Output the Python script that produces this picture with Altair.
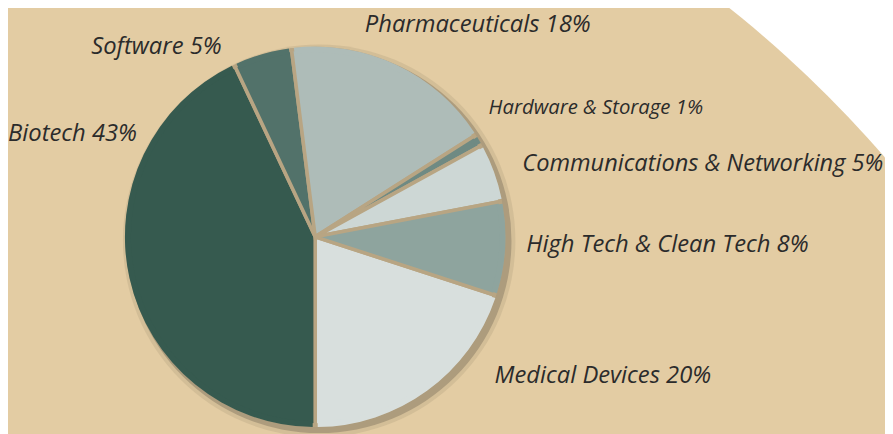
import math
import altair as alt
import pandas as pd

# --- data ---
categories = ["Medical Devices", "Biotech", "Software", "Pharmaceuticals",
              "Hardware & Storage", "Communications & Networking", "High Tech & Clean Tech"]
shares = [20, 43, 5, 18, 1, 5, 8]
slice_colors = ["#d8dfdd", "#365a4f", "#52726a", "#aebcb8", "#6f8a83", "#cdd7d5", "#8ea49e"]

# --- label layout (chart pixel coords) ---
label_x = [491, 0, 84, 360, 485, 519, 523]
label_y = [369, 125, 37, 15, 99, 156, 237]
label_size = [24, 24, 24, 24, 20.5, 23.8, 24]

df = pd.DataFrame({"category": categories, "value": shares, "ord": list(range(len(categories)))})
lab = pd.DataFrame({
    "label": [f"{c} {v}%" for c, v in zip(categories, shares)],
    "lx": label_x, "ly": label_y, "fs": label_size,
})
one = pd.DataFrame({"k": [0]})

W, H = 885, 426
CX, CY, R = 310, 229, 192
start = math.radians(108)
TWO_PI = 2 * math.pi
GAP = "#b8a583"

bg_circle = alt.Chart(one).mark_arc(theta=0, theta2=TWO_PI, radius=1184, color="#e3cca3").encode(
    x=alt.value(-10), y=alt.value(924))

shadow1 = alt.Chart(one).mark_arc(theta=0, theta2=TWO_PI, radius=R + 6, color="#c8b48f", opacity=0.6).encode(
    x=alt.value(CX + 4), y=alt.value(CY + 4))
shadow2 = alt.Chart(one).mark_arc(theta=0, theta2=TWO_PI, radius=R + 2, color="#a8987a", opacity=0.9).encode(
    x=alt.value(CX + 4), y=alt.value(CY + 4))

theta_enc = alt.Theta("value:Q", stack=True, scale=alt.Scale(range=[start, start + TWO_PI]))
color_enc = alt.Color("category:N", scale=alt.Scale(domain=categories, range=slice_colors), legend=None)

pie = alt.Chart(df).mark_arc(radius=R - 2, stroke=GAP, strokeWidth=3.6).encode(
    theta=theta_enc, order=alt.Order("ord:Q"), color=color_enc,
    x=alt.value(CX), y=alt.value(CY),
)
rim = alt.Chart(df).mark_arc(radius=R, radius2=R - 6, padAngle=0.019).encode(
    theta=theta_enc, order=alt.Order("ord:Q"), color=color_enc,
    x=alt.value(CX), y=alt.value(CY),
)

labels = alt.Chart(lab).mark_text(
    align="left", baseline="middle", font="Open Sans", fontStyle="italic",
    color="#2b2b2b"
).encode(
    x=alt.X("lx:Q", scale=None), y=alt.Y("ly:Q", scale=None),
    text="label:N", size=alt.Size("fs:Q", scale=None, legend=None),
)

chart = alt.layer(bg_circle, shadow1, shadow2, pie, rim, labels).resolve_scale(
    theta="independent"
).properties(
    width=W, height=H, padding=0, background="#ffffff",
    autosize=alt.AutoSizeParams(type="none"),
).configure_view(stroke=None)

chart.save("out.html", embed_options={"renderer": "svg", "actions": False})
